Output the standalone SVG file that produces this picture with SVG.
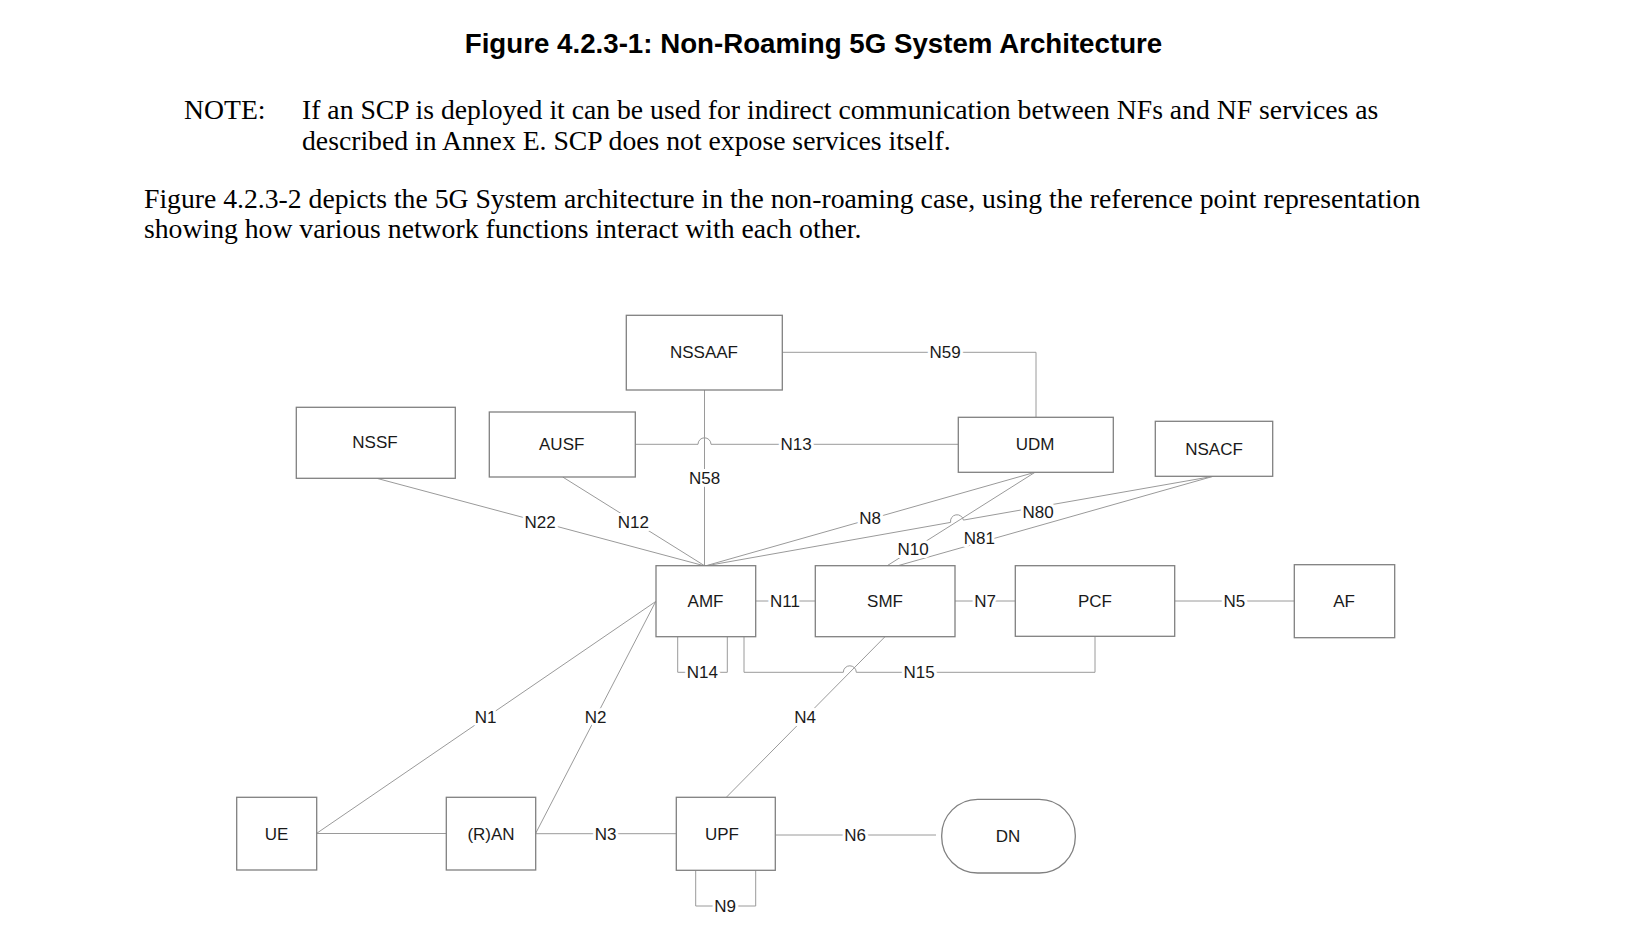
<svg xmlns="http://www.w3.org/2000/svg" width="1627" height="938" viewBox="0 0 1627 938">
<style>
.box{fill:#fff;stroke:#808080;stroke-width:1.3}
.con{fill:none;stroke:#9a9a9a;stroke-width:1}
.nt{font-family:"Liberation Sans",Arial,sans-serif;font-size:17px;fill:#1a1a1a;text-anchor:middle}
.lbl{font-family:"Liberation Sans",Arial,sans-serif;font-size:17px;fill:#1a1a1a;text-anchor:middle;stroke:#fff;stroke-width:6;paint-order:stroke fill;stroke-linejoin:round}
.body{font-family:"Liberation Serif","Times New Roman",serif;font-size:27.7px;fill:#000}
.title{font-family:"Liberation Sans",Arial,sans-serif;font-size:27.7px;font-weight:bold;fill:#000;text-anchor:middle}
</style>
<rect width="1627" height="938" fill="#fff"/>
<g id="text-header">
<text class="title" x="813.5" y="53">Figure 4.2.3-1: Non-Roaming 5G System Architecture</text>
<text class="body" x="184" y="118.5">NOTE:</text>
<text class="body" x="302" y="118.5">If an SCP is deployed it can be used for indirect communication between NFs and NF services as</text>
<text class="body" x="302" y="150">described in Annex E. SCP does not expose services itself.</text>
<text class="body" x="144" y="207.5">Figure 4.2.3-2 depicts the 5G System architecture in the non-roaming case, using the reference point representation</text>
<text class="body" x="144" y="238">showing how various network functions interact with each other.</text>
</g>
<g id="connectors">
<path class="con" d="M782.3,352.3 H1036 V417.3"/>
<path class="con" d="M704.5,390 V566"/>
<path class="con" d="M635.3,444.3 H698 A6.5,6.5 0 0 1 711,444.3 H958.3"/>
<path class="con" d="M376.7,478.3 L705,566"/>
<path class="con" d="M562.7,477 L705,566"/>
<path class="con" d="M1035,472.3 L705,566"/>
<path class="con" d="M705,566 L950.6,522.4 A6.5,6.5 0 0 1 963.4,520.1 L1213.3,476.3"/>
<path class="con" d="M1035,472.3 L886.7,566"/>
<path class="con" d="M1213.3,476.3 L893.3,567"/>
<path class="con" d="M755.7,601 H815.3"/>
<path class="con" d="M955,601 H1015.3"/>
<path class="con" d="M1174.7,601 H1294.3"/>
<path class="con" d="M677.7,636.7 V672.3 H727.3 V636.7"/>
<path class="con" d="M744,636.7 V672.3 H843.3 A6.5,6.5 0 0 1 856.3,672.3 H1095 V636.3"/>
<path class="con" d="M885,636.7 L726.3,797.3"/>
<path class="con" d="M316.7,833.3 L655.7,601.5"/>
<path class="con" d="M535.7,833.3 L655.7,601.5"/>
<path class="con" d="M316.7,833.5 H446.3"/>
<path class="con" d="M535.7,833.7 H676.3"/>
<path class="con" d="M775.3,835 H936"/>
<path class="con" d="M695.7,870.3 V906 H755.7 V870.3"/>
<text class="lbl" x="945" y="358.3">N59</text>
<text class="lbl" x="704.5" y="483.7">N58</text>
<text class="lbl" x="796" y="450.3">N13</text>
<text class="lbl" x="540" y="527.7">N22</text>
<text class="lbl" x="633.3" y="527.7">N12</text>
<text class="lbl" x="870" y="524.3">N8</text>
<text class="lbl" x="1038" y="517.5">N80</text>
<text class="lbl" x="913" y="555">N10</text>
<text class="lbl" x="979.3" y="544.3">N81</text>
<text class="lbl" x="785" y="607">N11</text>
<text class="lbl" x="985" y="607">N7</text>
<text class="lbl" x="1234.3" y="607">N5</text>
<text class="lbl" x="702.3" y="678.3">N14</text>
<text class="lbl" x="919" y="678.3">N15</text>
<text class="lbl" x="805" y="722.7">N4</text>
<text class="lbl" x="485.7" y="722.7">N1</text>
<text class="lbl" x="595.7" y="722.7">N2</text>
<text class="lbl" x="605.7" y="839.7">N3</text>
<text class="lbl" x="855" y="841">N6</text>
<text class="lbl" x="725" y="912">N9</text>
</g>
<g id="NSSAAF"><rect class="box" x="626.3" y="315.3" width="156" height="74.7"/><text class="nt" x="704" y="358">NSSAAF</text></g>
<g id="NSSF"><rect class="box" x="296.3" y="407.3" width="159" height="71"/><text class="nt" x="375" y="448">NSSF</text></g>
<g id="AUSF"><rect class="box" x="489.3" y="412" width="146" height="65"/><text class="nt" x="561.7" y="449.5">AUSF</text></g>
<g id="UDM"><rect class="box" x="958.3" y="417.3" width="155" height="55"/><text class="nt" x="1035" y="450">UDM</text></g>
<g id="NSACF"><rect class="box" x="1155.3" y="421.3" width="117.4" height="55"/><text class="nt" x="1214" y="454.5">NSACF</text></g>
<g id="AMF"><rect class="box" x="656" y="565.7" width="99.7" height="71"/><text class="nt" x="705.5" y="607">AMF</text></g>
<g id="SMF"><rect class="box" x="815.3" y="565.7" width="139.7" height="71"/><text class="nt" x="885" y="607">SMF</text></g>
<g id="PCF"><rect class="box" x="1015.3" y="565.7" width="159.4" height="70.6"/><text class="nt" x="1095" y="607">PCF</text></g>
<g id="AF"><rect class="box" x="1294.3" y="564.7" width="100.4" height="73"/><text class="nt" x="1344" y="607">AF</text></g>
<g id="UE"><rect class="box" x="236.7" y="797.3" width="80" height="72.7"/><text class="nt" x="276.5" y="839.5">UE</text></g>
<g id="RAN"><rect class="box" x="446.3" y="797.3" width="89.4" height="72.7"/><text class="nt" x="491" y="839.5">(R)AN</text></g>
<g id="UPF"><rect class="box" x="676.3" y="797.3" width="99" height="73"/><text class="nt" x="722" y="839.5">UPF</text></g>
<g id="DN"><rect class="box" x="941.7" y="799.3" width="133.6" height="73.7" rx="36" ry="36"/><text class="nt" x="1008" y="841.5">DN</text></g>
</svg>
